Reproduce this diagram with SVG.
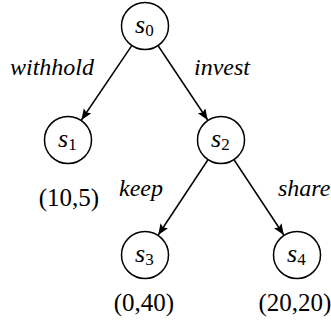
<svg xmlns="http://www.w3.org/2000/svg" width="331" height="332" viewBox="0 0 331 332">
<defs>
<marker id="arr" markerUnits="userSpaceOnUse" markerWidth="12" markerHeight="10" refX="11" refY="4.5" orient="auto">
<path d="M0,0 L11,4.5 L0,9 L2,4.5 z" fill="#000"/>
</marker>
</defs>
<g id="connectors" stroke="#000" stroke-width="1.5" fill="none">
<line x1="131.6" y1="45.9" x2="81.4" y2="120" marker-end="url(#arr)"/>
<line x1="158.3" y1="46" x2="207.7" y2="120" marker-end="url(#arr)"/>
<line x1="207.8" y1="160" x2="158.2" y2="235" marker-end="url(#arr)"/>
<line x1="234.2" y1="160" x2="283.8" y2="235" marker-end="url(#arr)"/>
</g>
<text x="10" y="75" font-family="Liberation Serif, Times New Roman, serif" font-style="italic" font-size="24">withhold</text>
<text x="194" y="75" font-family="Liberation Serif, Times New Roman, serif" font-style="italic" font-size="24">invest</text>
<text x="119" y="196" font-family="Liberation Serif, Times New Roman, serif" font-style="italic" font-size="24">keep</text>
<text x="278" y="196" font-family="Liberation Serif, Times New Roman, serif" font-style="italic" font-size="24">share</text>
<g id="s0"><circle cx="145" cy="26" r="23.5" fill="#fff" stroke="#000" stroke-width="1.5"/><text x="135" y="33" font-family="Liberation Serif, Times New Roman, serif" font-style="italic" font-size="26">s<tspan font-family="Liberation Serif, Times New Roman, serif" font-style="normal" font-size="17" dy="3">0</tspan></text></g>
<g id="s1"><circle cx="68" cy="140" r="23.5" fill="#fff" stroke="#000" stroke-width="1.5"/><text x="58" y="147" font-family="Liberation Serif, Times New Roman, serif" font-style="italic" font-size="26">s<tspan font-family="Liberation Serif, Times New Roman, serif" font-style="normal" font-size="17" dy="3">1</tspan></text></g>
<g id="s2"><circle cx="221" cy="140" r="23.5" fill="#fff" stroke="#000" stroke-width="1.5"/><text x="211" y="147" font-family="Liberation Serif, Times New Roman, serif" font-style="italic" font-size="26">s<tspan font-family="Liberation Serif, Times New Roman, serif" font-style="normal" font-size="17" dy="3">2</tspan></text></g>
<g id="s3"><circle cx="145" cy="255" r="23.5" fill="#fff" stroke="#000" stroke-width="1.5"/><text x="135" y="262" font-family="Liberation Serif, Times New Roman, serif" font-style="italic" font-size="26">s<tspan font-family="Liberation Serif, Times New Roman, serif" font-style="normal" font-size="17" dy="3">3</tspan></text></g>
<g id="s4"><circle cx="297" cy="255" r="23.5" fill="#fff" stroke="#000" stroke-width="1.5"/><text x="287" y="262" font-family="Liberation Serif, Times New Roman, serif" font-style="italic" font-size="26">s<tspan font-family="Liberation Serif, Times New Roman, serif" font-style="normal" font-size="17" dy="3">4</tspan></text></g>
<text x="69" y="206" font-family="Liberation Serif, Times New Roman, serif" font-size="25" text-anchor="middle">(10,5)</text>
<text x="144" y="311" font-family="Liberation Serif, Times New Roman, serif" font-size="25" text-anchor="middle">(0,40)</text>
<text x="295" y="311" font-family="Liberation Serif, Times New Roman, serif" font-size="25" text-anchor="middle">(20,20)</text>
</svg>
